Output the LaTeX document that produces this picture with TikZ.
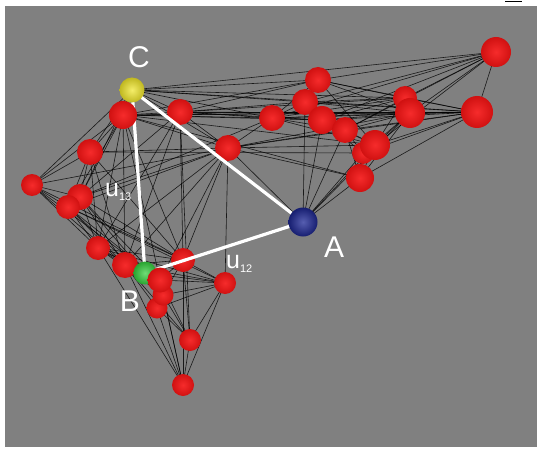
\documentclass[tikz,border=0pt]{standalone}
\usepackage{fontspec}
\setmainfont{Liberation Sans}
\usepackage{tikz}
\usetikzlibrary{shapes,positioning}

\definecolor{backgray}{RGB}{128,128,128}
\definecolor{ballred}{RGB}{245,20,20}
\definecolor{ballblue}{RGB}{30,40,150}
\definecolor{ballgreen}{RGB}{50,205,60}
\definecolor{ballyellow}{RGB}{240,230,40}

\begin{document}
\begin{tikzpicture}[x=1pt,y=-1pt,
  sphere/.style={circle,inner sep=0pt,minimum size=#1,shading=radial,
    inner color=ballred!90!white,outer color=ballred!85!black},
  link/.style={black,opacity=0.8,line width=0.6pt},
  side/.style={white,line width=3.2pt},
  tag/.style={white,inner sep=0pt,font=\fontsize{30}{30}\selectfont},
  subtag/.style={white,inner sep=0pt,font=\fontsize{25}{25}\selectfont}]
 \useasboundingbox (0,0) rectangle (537,449);
 \fill[backgray] (5,6) rectangle (537,447);
 \draw[line width=1.5pt] (505,1.5) -- (522,1.5);

 % positions of the spheres
 \foreach \n/\x/\y in {r1/496/52,r2/477/112,r3/318/80,r4/305/102,r5/322/120,
   r6/272/118,r7/180/112,r8/123/115,r9/405/98,r10/410/113,r11/345/130,
   r12/375/145,r13/363/153,r14/360/178,r15/228/148,r16/90/152,r17/32/185,
   r18/80/197,r19/68/207,r20/98/248,r21/125/265,r22/183/260,r23/160/280,
   r24/163/295,r25/157/308,r26/225/283,r27/190/340,r28/183/385,
   A/303/222,B/145/273,C/132/90}
   \coordinate (\n) at (\x,\y);

 % network links
 \foreach \a/\b in {r1/r2,r1/r3,r1/r4,r1/r9,r1/r10,r1/r5,r1/r11,r1/r6,r1/C,r1/r12,
   r2/r3,r2/r4,r2/r5,r2/r6,r2/r9,r2/r10,r2/r11,r2/r12,r2/r13,r2/r14,r2/C,r2/r8,r2/r7,r2/r15,
   r3/r4,r3/r9,r3/r10,r3/r6,r3/r7,r3/C,r3/r8,r3/r12,
   r4/r5,r4/r6,r4/r9,r4/r10,r4/r11,r4/r7,r4/C,r4/A,
   r5/r6,r5/r9,r5/r10,r5/r11,r5/r12,r5/r13,r5/A,r5/r7,r5/r8,
   r6/r7,r6/r9,r6/r10,r6/r11,r6/r15,r6/C,r6/r8,r6/r12,
   r9/r10,r9/r12,r9/r11,r9/r7,r9/C,
   r10/r11,r10/r12,r10/r13,r10/r14,r10/r15,r10/A,r10/r8,r10/r7,
   r11/r12,r11/r13,r11/r14,r11/A,r11/r15,
   r12/r13,r12/r14,r12/A,r12/r15,r12/r8,
   r13/r14,r13/r16,r13/A,r14/A,r14/r15,r14/r8,A/r15,
   C/r8,C/r7,C/r16,C/r17,C/r15,C/r18,
   r8/r7,r8/r16,r8/r17,r8/r18,r8/r19,r8/r20,r8/r21,r8/r15,r8/r22,r8/r23,
   r7/r15,r7/r22,r7/r21,r7/r18,r7/r20,r7/r27,
   r15/r16,r15/r18,r15/r19,r15/r20,r15/r21,r15/r23,r15/r26,r15/r22,r15/r17,
   r16/r17,r16/r18,r16/r19,r16/r20,r16/r21,r16/r22,
   r17/r18,r17/r19,r17/r20,r17/r21,r17/r23,r17/r22,
   r18/r19,r18/r20,r18/r21,r18/r22,r18/r23,r18/r24,r18/r6,
   r19/r20,r19/r21,r19/r22,r19/r23,r19/r24,r19/r26,
   r20/r21,r20/r22,r20/r23,r20/r24,r20/r26,r20/r28,
   r21/r22,r21/r23,r21/r24,r21/r25,r21/r27,r21/r28,r21/r26,
   r22/r23,r22/r24,r22/r26,r22/r27,r22/r28,
   r23/r24,r23/r25,r23/r26,r23/r27,r23/r28,
   r24/r25,r24/r26,r24/r27,r24/r28,
   r25/r26,r25/r27,r25/r28,r26/r27,r26/r28,r27/r28,
   B/r21,B/r23,B/r26,B/r22,B/r20}
   \draw[link] (\a) -- (\b);

 % spheres behind the triangle
 \foreach \n/\r in {r13/11,r9/12,r1/15,r2/16,r3/13,r4/13,r5/14,r6/13,r7/13,
   r10/15,r11/13,r12/15,r14/14,r15/13,r16/13,r17/11,r18/13,r19/12,r20/12,
   r21/13,r22/12,r26/11,r27/11,r28/11}
   \node[sphere=2*\r pt] (s\n) at (\n) {};

 \draw[side] (C) -- (A);
 \draw[side] (C) -- (B);
 \draw[side] (B) -- (A);

 % spheres in front
 \node[sphere=28pt] (sr8) at (r8) {};
 \node[circle,inner sep=0pt,minimum size=25pt,shading=radial,
   inner color=ballyellow!70!white,outer color=ballyellow!80!black] (sC) at (C) {};
 \node[circle,inner sep=0pt,minimum size=29pt,shading=radial,
   inner color=ballblue!75!white,outer color=ballblue!75!black] (sA) at (A) {};
 \node[circle,inner sep=0pt,minimum size=23pt,shading=radial,
   inner color=ballgreen!70!white,outer color=ballgreen!80!black] (sB) at (B) {};
 \node[sphere=21pt] (sr25) at (r25) {};
 \node[sphere=21pt] (sr24) at (r24) {};
 \node[sphere=25pt] (sr23) at (r23) {};

 \node[tag] (labC) at (139,57) {C};
 \node[tag] (labA) at (334,247) {A};
 \node[tag] (labB) at (130,301) {B};
 \node[subtag,anchor=base west] (labu13) at (105,196) {u{\fontsize{11}{11}\selectfont\raisebox{-4pt}{13}}};
 \node[subtag,anchor=base west] (labu12) at (226,268) {u{\fontsize{11}{11}\selectfont\raisebox{-4pt}{12}}};
\end{tikzpicture}
\end{document}
